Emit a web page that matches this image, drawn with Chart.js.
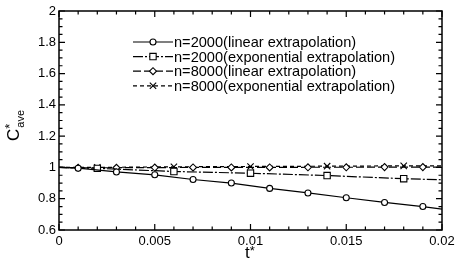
<!DOCTYPE html>
<html>
<head>
<meta charset="utf-8">
<style>
  html, body { margin: 0; padding: 0; background: #fff; }
  #wrap { width: 460px; height: 260px; }
</style>
</head>
<body>
<div id="wrap"><canvas id="cChart"></canvas></div>
<script src="https://cdn.jsdelivr.net/npm/chart.js"></script>
<script>
// values
const tOdd = [0, 0.001, 0.003, 0.005, 0.007, 0.009, 0.011, 0.013, 0.015, 0.017, 0.019, 0.02];
const tEven = [0, 0.002, 0.006, 0.01, 0.014, 0.018, 0.02];
const n2000Linear = [1.0, 0.995, 0.971, 0.953, 0.923, 0.9, 0.866, 0.837, 0.806, 0.776, 0.75, 0.733];
const n2000Exp = [1.0, 0.994, 0.974, 0.963, 0.948, 0.928, 0.921];
const n8000Linear = [1.0, 0.998, 0.998, 0.999, 1.0, 1.0, 1.0, 1.001, 1.001, 1.002, 1.002, 1.002];
const n8000Exp = [1.0, 1.0, 1.004, 1.006, 1.008, 1.01, 1.01];
const seriesLabels = [
  'n=2000(linear extrapolation)',
  'n=2000(exponential extrapolation)',
  'n=8000(linear extrapolation)',
  'n=8000(exponential extrapolation)'
];
const xTicks = [0, 0.005, 0.01, 0.015, 0.02];
const xTickLabels = ['0', '0.005', '0.01', '0.015', '0.02'];
const yTicks = [0.6, 0.8, 1, 1.2, 1.4, 1.6, 1.8, 2];
const yTickLabels = ['0.6', '0.8', '1', '1.2', '1.4', '1.6', '1.8', '2'];

const FONT = '"Liberation Sans", Arial, sans-serif';

function pts(xs, ys) {
  return xs.map((x, i) => ({ x: x, y: ys[i] }));
}
// no marker on the two end points of each curve
function markerRadius(r) {
  return function(c) {
    const n = c.dataset.data.length;
    return (c.dataIndex === 0 || c.dataIndex === n - 1) ? 0 : r;
  };
}

const styles = [
  { pointStyle: 'circle', radius: 3, dash: [] },
  { pointStyle: 'rect', radius: 4.5, dash: [10, 2, 2, 2] },
  { pointStyle: 'rectRot', radius: 3.5, dash: [8, 3] },
  { pointStyle: 'crossRot', radius: 4.5, dash: [4, 3] }
];
const seriesData = [pts(tOdd, n2000Linear), pts(tEven, n2000Exp), pts(tOdd, n8000Linear), pts(tEven, n8000Exp)];

const datasets = seriesData.map((d, i) => ({
  label: seriesLabels[i],
  data: d,
  showLine: true,
  borderColor: '#000',
  borderWidth: 1.2,
  borderDash: styles[i].dash,
  pointStyle: styles[i].pointStyle,
  pointRadius: markerRadius(styles[i].radius),
  pointBorderColor: '#000',
  pointBackgroundColor: '#fff',
  pointBorderWidth: 1.1,
  tension: 0
}));

// frame, inward ticks on all four sides, legend and axis titles
const framePlugin = {
  id: 'frame',
  afterDraw(chart) {
    const ctx = chart.ctx;
    const a = chart.chartArea;
    const xs = chart.scales.x, ys = chart.scales.y;
    ctx.save();
    ctx.strokeStyle = '#000';
    ctx.lineWidth = 1.5;
    ctx.setLineDash([]);
    ctx.strokeRect(a.left, a.top, a.right - a.left, a.bottom - a.top);

    ctx.lineWidth = 1.2;
    ctx.beginPath();
    for (let k = 0; k <= 20; k++) {
      const px = xs.getPixelForValue(k * 0.001);
      const len = k % 5 === 0 ? 6 : 3.5;
      ctx.moveTo(px, a.bottom); ctx.lineTo(px, a.bottom - len);
      ctx.moveTo(px, a.top); ctx.lineTo(px, a.top + len);
    }
    for (let k = 0; k <= 28; k++) {
      const py = ys.getPixelForValue(0.6 + k * 0.05);
      const len = k % 4 === 0 ? 6 : 3.5;
      ctx.moveTo(a.left, py); ctx.lineTo(a.left + len, py);
      ctx.moveTo(a.right, py); ctx.lineTo(a.right - len, py);
    }
    ctx.stroke();

    // legend inside the plot
    const lx = a.left + 74, ly = a.top + 31, step = 14.6;
    chart.data.datasets.forEach((ds, i) => {
      const y = ly + i * step;
      ctx.setLineDash(ds.borderDash);
      ctx.lineWidth = 1.2;
      ctx.strokeStyle = '#000';
      ctx.beginPath();
      ctx.moveTo(lx, y); ctx.lineTo(lx + 40, y);
      ctx.stroke();
      ctx.setLineDash([]);
      ctx.fillStyle = '#fff';
      ctx.lineWidth = 1.1;
      Chart.helpers.drawPoint(ctx, { pointStyle: ds.pointStyle, radius: styles[i].radius, rotation: 0, borderWidth: 1.1 }, lx + 20, y);
      ctx.fillStyle = '#000';
      ctx.font = '14.6px ' + FONT;
      ctx.textAlign = 'left';
      ctx.textBaseline = 'middle';
      ctx.fillText(ds.label, lx + 41, y + 1);
    });

    // x title t*
    ctx.fillStyle = '#000';
    ctx.textBaseline = 'alphabetic';
    ctx.textAlign = 'left';
    ctx.font = '17px ' + FONT;
    ctx.fillText('t', 245, 258);
    const tw = ctx.measureText('t').width;
    ctx.font = '13px ' + FONT;
    ctx.fillText('*', 245 + tw, 255);

    // y title C*ave rotated
    ctx.translate(19, 141);
    ctx.rotate(-Math.PI / 2);
    ctx.font = '17px ' + FONT;
    ctx.fillText('C', 0, 0);
    const cw = ctx.measureText('C').width;
    ctx.font = '13px ' + FONT;
    ctx.fillText('*', cw, -5);
    ctx.font = '11px ' + FONT;
    ctx.fillText('ave', cw + 1, 5);
    ctx.restore();
  }
};

const config = {
  type: 'scatter',
  data: { datasets: datasets },
  options: {
    responsive: true,
    maintainAspectRatio: false,
    animation: false,
    layout: { padding: { left: 0, top: 11, right: 18, bottom: 0 } },
    plugins: {
      legend: { display: false },
      tooltip: { enabled: false }
    },
    scales: {
      x: {
        type: 'linear',
        min: 0,
        max: 0.02,
        afterFit(s) { s.height = 30; },
        afterBuildTicks(s) { s.ticks = xTicks.map(v => ({ value: v })); },
        grid: { display: false, drawTicks: false },
        border: { display: false },
        ticks: {
          color: '#000',
          padding: 4,
          maxRotation: 0,
          font: { family: FONT, size: 13 },
          callback: (v, i) => xTickLabels[i]
        }
      },
      y: {
        type: 'linear',
        min: 0.6,
        max: 2,
        afterFit(s) { s.width = 59; },
        afterBuildTicks(s) { s.ticks = yTicks.map(v => ({ value: v })); },
        grid: { display: false, drawTicks: false },
        border: { display: false },
        ticks: {
          color: '#000',
          padding: 3,
          font: { family: FONT, size: 13 },
          callback: (v, i) => yTickLabels[i]
        }
      }
    }
  },
  plugins: [framePlugin]
};

const ctx = document.getElementById('cChart').getContext('2d');
const cChart = new Chart(ctx, config);
</script>
</body>
</html>
